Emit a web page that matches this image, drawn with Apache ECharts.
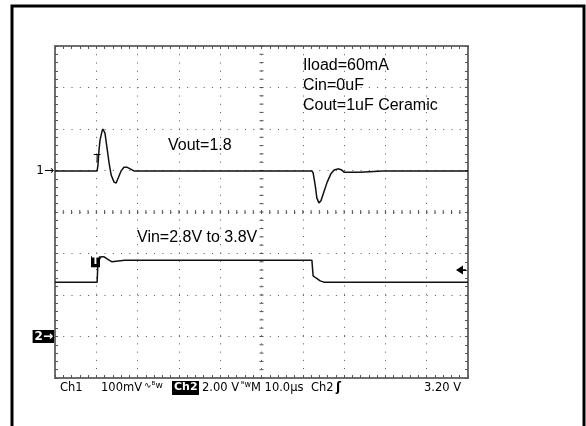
<!DOCTYPE html>
<html>
<head>
<meta charset="utf-8">
<script src="https://cdn.jsdelivr.net/npm/echarts@6/dist/echarts.min.js"></script>
<style>
  html, body { margin: 0; padding: 0; background: #fff; }
  #main { width: 586px; height: 426px; }
</style>
</head>
<body>
<div id="main"></div>
<script>
// time in µs (10 µs/div), level in screen divisions (center = 0)
const ch1Time = [0, 10.2, 10.4, 10.65, 10.9, 11.4, 11.6, 12.1, 12.6, 13.1, 13.6, 14.3, 14.8, 15.3, 16.0, 16.7, 17.4, 18.2, 19.1, 62.2, 62.5, 63.0, 63.4, 63.9, 64.4, 65.1, 65.9, 66.8, 67.6, 68.5, 69.3, 70.0, 73.9, 79.4, 100];
const ch1Level = [0.99, 0.99, 1.13, 1.49, 1.73, 1.95, 2.0, 1.9, 1.54, 1.18, 0.89, 0.72, 0.7, 0.82, 0.99, 1.08, 1.08, 1.04, 0.99, 0.99, 0.94, 0.65, 0.34, 0.22, 0.27, 0.48, 0.72, 0.92, 1.01, 1.04, 1.02, 0.96, 0.96, 0.99, 0.99];
const ch2Time = [0, 10.2, 10.4, 10.65, 11.1, 11.9, 12.8, 13.8, 15.3, 16.9, 62.2, 62.5, 63.2, 64.2, 65.1, 100];
const ch2Level = [-1.69, -1.69, -1.2, -1.16, -1.08, -1.08, -1.14, -1.2, -1.18, -1.16, -1.16, -1.54, -1.59, -1.66, -1.69, -1.69];
const notes = ['Iload=60mA', 'Cin=0uF', 'Cout=1uF Ceramic'];

const chart = echarts.init(document.getElementById('main'));

const pairs = (xs, ys) => xs.map((x, i) => [x, ys[i]]);

const edgeAxis = (pos, extra) => Object.assign({
  type: 'value',
  position: pos,
  axisLine: { show: true, onZero: false, lineStyle: { color: '#6e6e6e', width: 2 } },
  axisTick: { show: true, inside: true, length: 3, lineStyle: { color: '#555' } },
  minorTick: { show: true, splitNumber: 5, length: 3, lineStyle: { color: '#555' } },
  axisLabel: { show: false },
  splitLine: { show: false }
}, extra);

const dotted = { show: true, lineStyle: { color: '#555', width: 1, type: [1, 7.26] } };
const statusFont = '11.5px "DejaVu Sans"';

const option = {
  animation: false,
  backgroundColor: '#fff',
  grid: { left: 55, top: 46, width: 413, height: 332 },
  xAxis: [
    edgeAxis('bottom', { min: 0, max: 100, interval: 10, splitLine: dotted }),
    edgeAxis('top', { min: 0, max: 100, interval: 10 })
  ],
  yAxis: [
    edgeAxis('left', {
      min: -4, max: 4, interval: 1, splitLine: dotted,
      axisLabel: {
        show: true, margin: 1,
        formatter: v => v === 1 ? '{a|1→}' : (v === -3 ? '{b|2→}' : ''),
        rich: {
          a: { color: '#000', fontSize: 12, fontFamily: 'DejaVu Sans' },
          b: { color: '#fff', backgroundColor: '#000', fontSize: 12, fontFamily: 'DejaVu Sans', fontWeight: 'bold', padding: [1, 1, 0, 2] }
        }
      }
    }),
    edgeAxis('right', { min: -4, max: 4, interval: 1 })
  ],
  graphic: [
    { type: 'rect', shape: { x: 12, y: 6, width: 572, height: 440 }, style: { fill: 'none', stroke: '#000', lineWidth: 3 }, silent: true },
    { type: 'text', left: 303, top: 56, style: { text: notes.join('\n'), font: '16px "Liberation Sans"', lineHeight: 20, fill: '#000' } },
    { type: 'text', left: 168, top: 138, style: { text: 'Vout=1.8', font: '16px "Liberation Sans"', fill: '#000' } },
    { type: 'text', left: 137, top: 230, style: { text: 'Vin=2.8V to 3.8V', font: '16px "Liberation Sans"', fill: '#000' } },
    // bottom status line
    { type: 'text', left: 60, top: 382, style: { text: 'Ch1', font: statusFont, fill: '#000' } },
    { type: 'text', left: 101, top: 382, style: { text: '100mV', font: statusFont, fill: '#000' } },
    { type: 'text', left: 144, top: 381, style: { text: '∿ᴮw', font: '9px "DejaVu Sans"', fill: '#000' } },
    { type: 'rect', shape: { x: 172, y: 381, width: 27, height: 14 }, style: { fill: '#000' } },
    { type: 'text', left: 174, top: 382, style: { text: 'Ch2', font: 'bold 11px "DejaVu Sans"', fill: '#fff' } },
    { type: 'text', left: 202, top: 382, style: { text: '2.00 V', font: statusFont, fill: '#000' } },
    { type: 'text', left: 241, top: 381, style: { text: 'ᴮw', font: '8px "DejaVu Sans"', fill: '#000' } },
    { type: 'text', left: 251, top: 382, style: { text: 'M 10.0µs', font: statusFont, fill: '#000' } },
    { type: 'text', left: 311, top: 382, style: { text: 'Ch2', font: statusFont, fill: '#000' } },
    { type: 'text', left: 336, top: 382, style: { text: 'ʃ', font: 'bold 12px "DejaVu Sans"', fill: '#000' } },
    { type: 'text', left: 424, top: 382, style: { text: '3.20 V', font: statusFont, fill: '#000' } }
  ],
  series: [
    {
      // graticule centre cross with minor ticks
      type: 'custom',
      silent: true,
      data: [[0, 0]],
      renderItem: function (params, api) {
        const children = [];
        for (let t = 0; t <= 100; t += 2) {
          const p = api.coord([t, 0]);
          children.push({ type: 'line', shape: { x1: p[0], y1: p[1] - 2, x2: p[0], y2: p[1] + 2 }, style: { stroke: '#555', lineWidth: 1 } });
        }
        for (let k = -20; k <= 20; k++) {
          const p = api.coord([50, k / 5]);
          children.push({ type: 'line', shape: { x1: p[0] - 2, y1: p[1], x2: p[0] + 2, y2: p[1] }, style: { stroke: '#555', lineWidth: 1 } });
        }
        return { type: 'group', children: children };
      }
    },
    {
      name: 'Vout',
      type: 'line',
      data: pairs(ch1Time, ch1Level),
      symbol: 'none',
      lineStyle: { color: '#111', width: 1.5 },
      markPoint: {
        symbol: 'circle', symbolSize: 1,
        itemStyle: { color: 'transparent' },
        label: { show: true, formatter: 'T', color: '#000', fontSize: 11, fontFamily: 'DejaVu Sans' },
        data: [{ coord: [10.2, 1.27] }]
      }
    },
    {
      name: 'Vin',
      type: 'line',
      data: pairs(ch2Time, ch2Level),
      symbol: 'none',
      lineStyle: { color: '#111', width: 1.5 },
      markPoint: {
        data: [
          {
            coord: [9.8, -1.2], symbol: 'rect', symbolSize: [9, 11],
            itemStyle: { color: '#000' },
            label: { show: true, formatter: 'T', color: '#fff', fontSize: 10, fontWeight: 'bold', fontFamily: 'DejaVu Sans' }
          },
          {
            coord: [98.3, -1.4], symbol: 'path://M0,5L7,0L7,4L10,4L10,6L7,6L7,10Z', symbolSize: [10, 9],
            itemStyle: { color: '#000' }, label: { show: false }
          }
        ]
      }
    }
  ]
};

chart.setOption(option);
</script>
</body>
</html>
